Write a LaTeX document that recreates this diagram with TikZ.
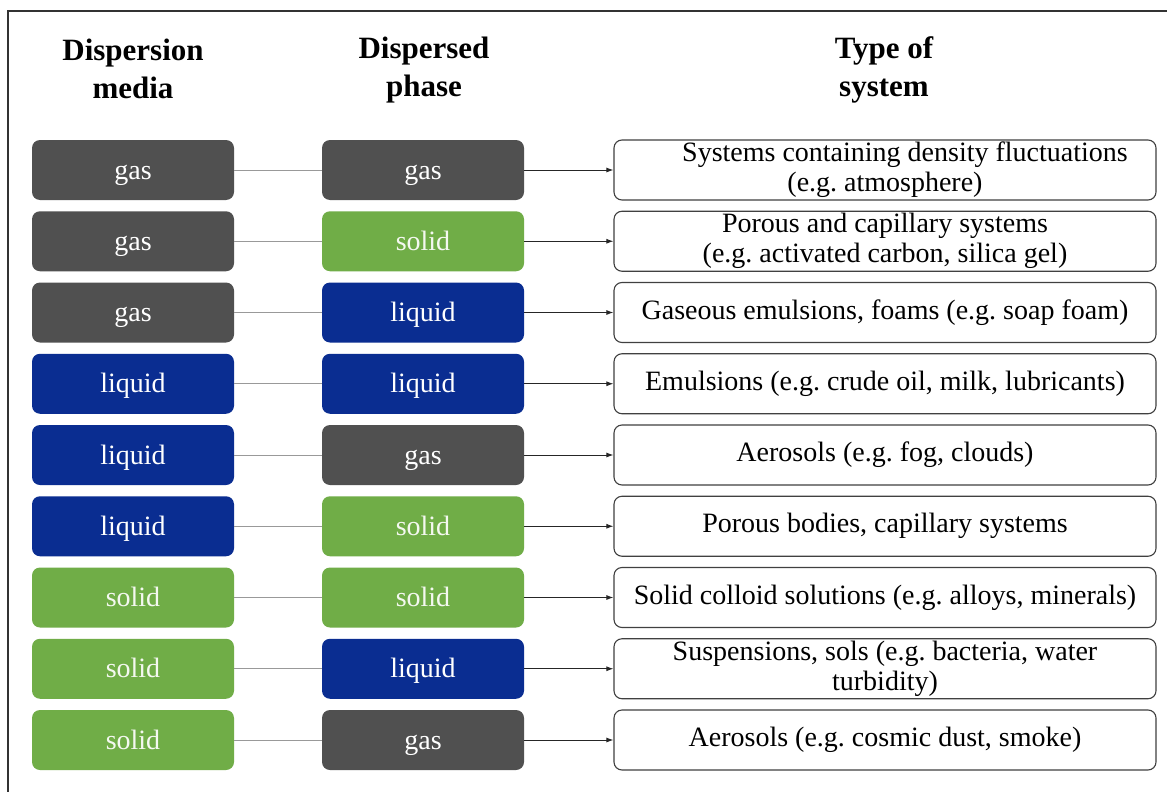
\documentclass[tikz,border=0pt]{standalone}
\usepackage{fontspec}
\setmainfont{Liberation Serif}
\usetikzlibrary{arrows.meta}
\definecolor{cgas}{RGB}{80,80,80}
\definecolor{cliq}{RGB}{10,45,145}
\definecolor{csol}{RGB}{112,173,71}
\frenchspacing
\begin{document}
\frenchspacing
\begin{tikzpicture}[x=1pt,y=-1pt,
  phase/.style={rounded corners=8pt, minimum width=202pt, minimum height=60pt, inner sep=0pt, text height=21pt, text depth=3pt, text=white, font=\fontsize{28}{30}\selectfont},
  pgas/.style={phase, fill=cgas},
  pliquid/.style={phase, fill=cliq},
  psolid/.style={phase, fill=csol, text=white!92!csol},
  sysbox/.style={draw=black!75, line width=1.1pt, rounded corners=8pt, fill=white, minimum width=542pt, minimum height=60pt, inner sep=0pt, align=center, font=\fontsize{28}{30}\selectfont},
  hdr/.style={align=center, font=\bfseries\fontsize{31}{38}\selectfont},
  link/.style={draw=black!40, line width=0.9pt},
  arr/.style={-{Latex[length=7pt,width=5pt]}, line width=1pt, draw=black!85}]
\useasboundingbox (0,0) rectangle (1167,792);
\fill[white] (0,0) rectangle (1167,792);
\draw[line width=1.5pt, black!80] (8,792) -- (8,11) -- (1167,11);
\node[hdr] (h1) at (133,69) {Dispersion\\media};
\node[hdr] (h2) at (424,70) {Dispersed\\phase};
\node[hdr] (h3) at (884,70) {Type of\\system};
\foreach \i/\a/\b/\t in {
  1/gas/gas/{\hspace*{40pt}Systems containing density fluctuations\\(e.g. atmosphere)},
  2/gas/solid/{Porous and capillary systems\\(e.g. activated carbon, silica gel)},
  3/gas/liquid/{Gaseous emulsions, foams (e.g. soap foam)},
  4/liquid/liquid/{Emulsions (e.g. crude oil, milk, lubricants)},
  5/liquid/gas/{Aerosols (e.g. fog, clouds)},
  6/liquid/solid/{Porous bodies, capillary systems},
  7/solid/solid/{Solid colloid solutions (e.g. alloys, minerals)},
  8/solid/liquid/{Suspensions, sols (e.g. bacteria, water\\turbidity)},
  9/solid/gas/{Aerosols (e.g. cosmic dust, smoke)}} {
  \pgfmathsetmacro{\yy}{170+(\i-1)*71.25}
  \node[p\a] (L\i) at (133,\yy) {\a};
  \node[p\b] (M\i) at (423,\yy) {\b};
  \node[sysbox] (S\i) at (885,\yy) {\t};
  \draw[link] (L\i.east) -- (M\i.west);
  \draw[arr] (M\i.east) -- (S\i.west);
}
\end{tikzpicture}
\end{document}
